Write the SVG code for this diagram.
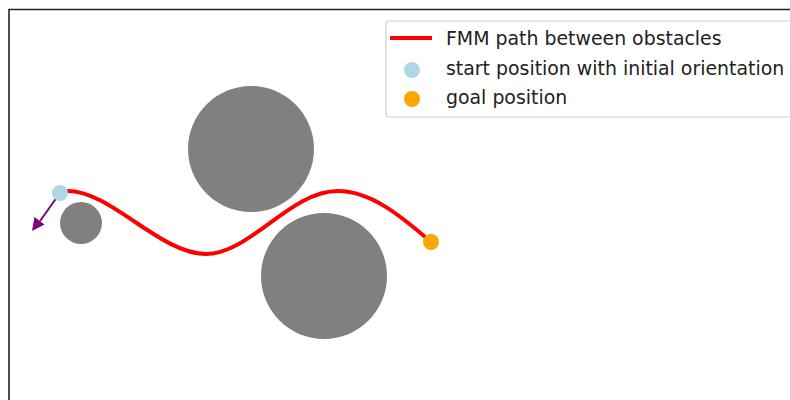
<svg xmlns="http://www.w3.org/2000/svg" width="790" height="400" viewBox="0 0 790 400">
<style>
.obst{fill:#808080}
.txt{font-family:"DejaVu Sans",sans-serif;font-size:18.9px;fill:#222}
</style>
<rect x="0" y="0" width="790" height="400" fill="#fff"/>
<path d="M9,410 V9.5 H800" fill="none" stroke="#222" stroke-width="1.6"/>
<g id="obstacle1"><circle class="obst" cx="251" cy="149" r="63"/></g>
<g id="obstacle2"><circle class="obst" cx="324" cy="276" r="63"/></g>
<g id="obstacle3"><circle class="obst" cx="81" cy="223" r="21"/></g>
<g id="connectors">
<path id="fmm-path" d="M67,191 C110,190 160,254 206,254 C250,254 290,191 338,191 C370,191 400,215 431,242" fill="none" stroke="#ff0000" stroke-width="4"/>
<line id="orientation" x1="60" y1="193" x2="40" y2="221" stroke="#800080" stroke-width="2"/>
<path d="M32,231 L34.5,217 L44.5,224.5 Z" fill="#800080"/>
</g>
<g id="start"><circle cx="60" cy="193" r="8" fill="#add8e6"/></g>
<g id="goal"><circle cx="431" cy="242" r="8" fill="#ffa500"/></g>
<g id="legend">
<rect x="386" y="21" width="410" height="96" rx="3" fill="#fff" fill-opacity="0.8" stroke="#d0d0d0" stroke-width="1.2"/>
<line x1="390" y1="38" x2="432" y2="38" stroke="#ff0000" stroke-width="4"/>
<text class="txt" x="446" y="45">FMM path between obstacles</text>
<circle cx="412" cy="70" r="8" fill="#add8e6"/>
<text class="txt" x="446" y="75">start position with initial orientation</text>
<circle cx="412" cy="99" r="8" fill="#ffa500"/>
<text class="txt" x="446" y="104">goal position</text>
</g>
</svg>
